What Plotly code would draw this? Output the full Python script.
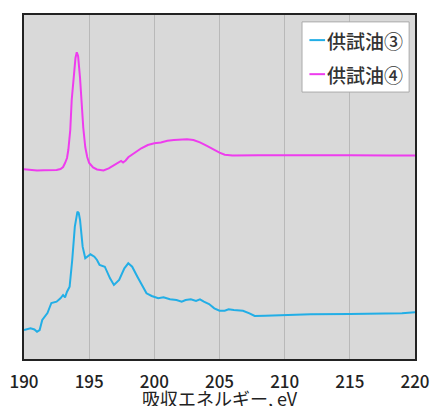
import plotly.graph_objects as go

# Absorption spectra (arbitrary intensity units), energy in eV
energy_3 = [190.0, 190.5, 190.8, 191.0, 191.2, 191.4, 191.8, 192.1, 192.5, 192.8,
            193.0, 193.15, 193.3, 193.5, 193.7, 193.9, 194.1, 194.2, 194.3, 194.5,
            194.7, 194.9, 195.1, 195.4, 195.6, 195.8, 196.2, 196.6, 196.9, 197.3,
            197.7, 198.0, 198.3, 198.7, 199.1, 199.4, 199.8, 200.3, 200.7, 201.2,
            201.7, 202.1, 202.4, 202.8, 203.2, 203.5, 203.8, 204.2, 204.6, 205.0,
            205.4, 205.7, 206.1, 206.8, 207.3, 207.7, 208.5, 210.0, 212.0, 215.0,
            218.0, 219.0, 220.0]
sample_3 = [29.0, 30.7, 29.5, 27.3, 29.0, 39.0, 46.0, 56.0, 57.3, 60.7,
            64.0, 61.7, 67.3, 72.3, 99.0, 132.3, 147.3, 146.0, 139.0, 112.3,
            100.7, 102.3, 104.7, 102.3, 99.0, 94.0, 92.3, 80.7, 74.0, 79.0,
            90.7, 95.7, 92.3, 82.3, 72.3, 65.7, 63.0, 60.7, 61.7, 59.7,
            59.0, 57.3, 59.0, 59.7, 58.0, 59.7, 57.3, 55.0, 50.7, 48.3,
            48.3, 49.7, 49.0, 48.3, 45.7, 43.0, 43.3, 44.0, 44.7, 45.0,
            45.0, 45.7, 46.7]

energy_4 = [190.0, 190.5, 191.0, 191.5, 192.0, 192.5, 192.8, 193.0, 193.15, 193.3,
            193.4, 193.55, 193.66, 193.8, 193.95, 194.05, 194.15, 194.3, 194.4, 194.55,
            194.7, 194.85, 195.0, 195.3, 195.6, 196.1, 196.5, 196.9, 197.2, 197.45,
            197.6, 197.8, 198.0, 198.5, 199.0, 199.5, 200.0, 200.5, 201.0, 201.5,
            202.0, 202.5, 203.0, 203.5, 204.0, 204.5, 205.0, 205.4, 205.7, 206.0,
            208.0, 210.0, 212.0, 215.0, 218.0, 220.0]
sample_4 = [189.7, 189.0, 188.5, 188.7, 189.0, 189.0, 190.0, 192.0, 196.0, 201.0,
            209.0, 229.0, 259.0, 284.0, 301.0, 306.7, 303.0, 281.0, 259.0, 231.0,
            212.0, 202.0, 196.0, 191.5, 189.5, 188.5, 190.7, 193.5, 196.0, 198.0,
            196.5, 198.5, 201.7, 206.5, 210.7, 214.0, 215.7, 216.5, 218.3, 219.0,
            219.7, 219.7, 219.0, 216.7, 213.3, 209.5, 206.3, 204.2, 203.5, 203.5,
            203.7, 203.5, 203.5, 203.7, 203.5, 203.5]

series_names = ["供試油③", "供試油④"]
series_colors = ["#22aee6", "#ee3cee"]
x_ticks = [190, 195, 200, 205, 210, 215, 220]
x_title = "吸収エネルギー, eV"

FONT = "Noto Sans CJK JP"

fig = go.Figure()
fig.add_trace(go.Scatter(x=energy_3, y=sample_3, mode="lines", name=series_names[0],
                         line=dict(color=series_colors[0], width=2), showlegend=False))
fig.add_trace(go.Scatter(x=energy_4, y=sample_4, mode="lines", name=series_names[1],
                         line=dict(color=series_colors[1], width=2), showlegend=False))

# Legend box drawn in paper coordinates
shapes = [dict(type="rect", xref="paper", yref="paper", x0=0.711, x1=0.985, y0=0.776, y1=0.980,
               fillcolor="white", line=dict(color="#aaaaaa", width=1), layer="above")]
annotations = []
for i, (name, col) in enumerate(zip(series_names, series_colors)):
    yy = 0.927 - i * 0.099
    shapes.append(dict(type="line", xref="paper", yref="paper", x0=0.730, x1=0.770, y0=yy, y1=yy,
                       line=dict(color=col, width=2), layer="above"))
    annotations.append(dict(xref="paper", yref="paper", x=0.770, y=yy, text=name, showarrow=False,
                            xanchor="left", yanchor="middle",
                            font=dict(family=FONT, size=19, color="#333333", weight=500)))

annotations.append(dict(xref="paper", yref="paper", x=0.5, y=-0.069, text=x_title, showarrow=False,
                        xanchor="center", yanchor="top",
                        font=dict(family=FONT, size=18, color="#222222")))

fig.update_layout(
    width=431, height=406,
    margin=dict(l=24, r=16, t=15, b=47),
    paper_bgcolor="white",
    plot_bgcolor="#d9d9d9",
    shapes=shapes,
    annotations=annotations,
    xaxis=dict(range=[190, 220], tickvals=x_ticks, ticks="", showgrid=True,
               gridcolor="#b9b9b9", gridwidth=1, zeroline=False, automargin=False,
               showline=True, linecolor="#222222", linewidth=2, mirror=True,
               ticklabelstandoff=7,
               tickfont=dict(family=FONT, size=17, color="#222222", weight=500)),
    yaxis=dict(range=[0, 344], showticklabels=False, ticks="", showgrid=False, zeroline=False,
               automargin=False,
               showline=True, linecolor="#222222", linewidth=2, mirror=True),
)

fig.write_html("out.html")
